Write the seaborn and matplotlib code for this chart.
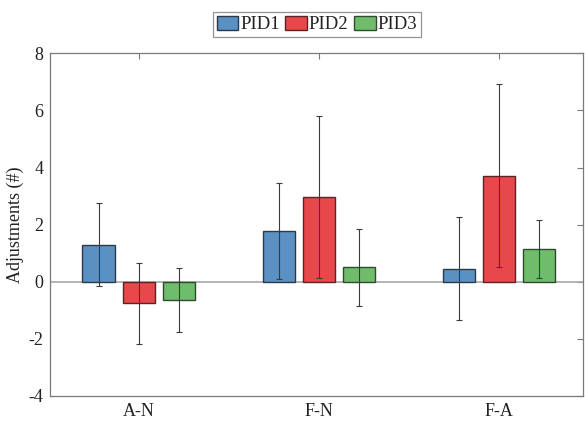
import numpy as np
import pandas as pd
import matplotlib
matplotlib.use('Agg')
import matplotlib.pyplot as plt
import seaborn as sns

categories = ["A-N", "F-N", "F-A"]
series = ["PID1", "PID2", "PID3"]
means = {
    "PID1": [1.30, 1.77, 0.46],
    "PID2": [-0.76, 2.98, 3.72],
    "PID3": [-0.64, 0.50, 1.14],
}
errs = {
    "PID1": [1.44, 1.69, 1.81],
    "PID2": [1.43, 2.84, 3.19],
    "PID3": [1.13, 1.34, 1.02],
}
colors = ["#5a90c2", "#e8474b", "#6fbd6b"]
edges = ["#2a3a4c", "#5a2324", "#2f4a2f"]

rows = []
for s in series:
    for c, v, e in zip(categories, means[s], errs[s]):
        rows.append({"cond": c, "pid": s, "val": v, "err": e})
df = pd.DataFrame(rows)

sns.set_style("white")
plt.rcParams['font.family'] = ['Liberation Serif', 'DejaVu Serif']
plt.rcParams['axes.unicode_minus'] = False
plt.rcParams['text.color'] = '#222222'
plt.rcParams['axes.labelcolor'] = '#222222'
plt.rcParams['xtick.color'] = '#222222'
plt.rcParams['ytick.color'] = '#222222'

fig, ax = plt.subplots(figsize=(5.85, 4.23), dpi=100)
fig.subplots_adjust(left=0.086, right=0.997, bottom=0.064, top=0.874)

sns.barplot(data=df, x="cond", y="val", hue="pid", order=categories, hue_order=series,
            palette=colors, saturation=1, width=0.667, gap=0.2, errorbar=None, ax=ax,
            linewidth=1.0, zorder=2)

# edge colours + error bars from the drawn bars
for i, s in enumerate(series):
    cont = ax.containers[i]
    for bar in cont:
        bar.set_edgecolor(edges[i])
    xs = [b.get_x() + b.get_width() / 2 for b in cont]
    ax.errorbar(xs, means[s], yerr=errs[s], fmt='none', ecolor='#3a3a3a',
                elinewidth=0.8, capsize=2.2, capthick=0.8, zorder=3)

ax.axhline(0, color='#a8a8a8', lw=1.2, zorder=1)
ax.set_xlim(-0.49, 2.47)
ax.set_ylim(-4, 8)
ax.set_yticks(range(-4, 9, 2))
ax.set_xlabel("")
ax.set_ylabel("Adjustments (#)", fontsize=13, labelpad=3)
ax.tick_params(axis='both', direction='in', length=4, color='#7a7a7a',
               labelsize=13, top=True, right=True, pad=5)
for sp in ax.spines.values():
    sp.set_visible(True)
    sp.set_color('#7a7a7a')
    sp.set_linewidth(0.9)

leg = ax.legend(loc='lower center', bbox_to_anchor=(0.5, 1.047), ncol=3, fontsize=13.5,
                frameon=True, fancybox=False, edgecolor='#7a7a7a', handlelength=1.17,
                handleheight=0.8, handletextpad=0.08, columnspacing=0.3,
                borderpad=0.2, borderaxespad=0)
leg.get_frame().set_linewidth(0.9)
for h, ec in zip(leg.legend_handles, edges):
    h.set_edgecolor(ec)

fig.savefig("out.png", dpi=100)
